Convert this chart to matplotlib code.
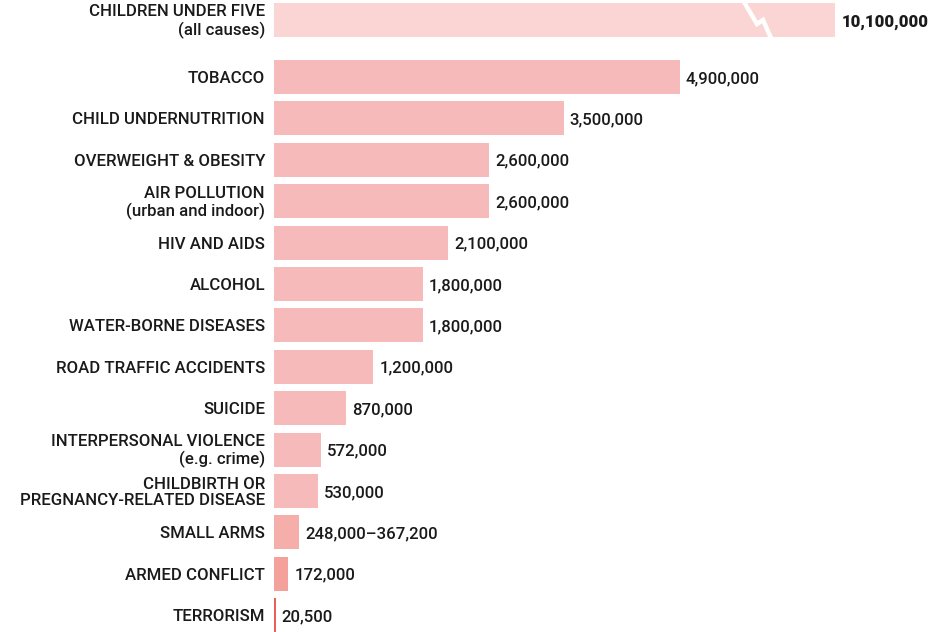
import numpy as np
import matplotlib
matplotlib.use("Agg")
from matplotlib import pyplot as plt

plt.rcParams['font.family'] = ['Roboto', 'DejaVu Sans']

# data
causes = ["CHILDREN UNDER FIVE\n(all causes)", "TOBACCO", "CHILD UNDERNUTRITION",
          "OVERWEIGHT & OBESITY", "AIR POLLUTION\n(urban and indoor)", "HIV AND AIDS",
          "ALCOHOL", "WATER-BORNE DISEASES", "ROAD TRAFFIC ACCIDENTS", "SUICIDE",
          "INTERPERSONAL VIOLENCE\n(e.g. crime)", "CHILDBIRTH OR\nPREGNANCY-RELATED DISEASE",
          "SMALL ARMS", "ARMED CONFLICT", "TERRORISM"]
deaths = [10100000, 4900000, 3500000, 2600000, 2600000, 2100000, 1800000, 1800000,
          1200000, 870000, 572000, 530000, 307600, 172000, 20500]
value_labels = ["10,100,000", "4,900,000", "3,500,000", "2,600,000", "2,600,000",
                "2,100,000", "1,800,000", "1,800,000", "1,200,000", "870,000",
                "572,000", "530,000", "248,000\u2013367,200", "172,000", "20,500"]

# layout
W, H = 932, 632
x0 = 274
px_per_m = 82.8
cap = 6.78  # broken bar shown up to this (millions)
ypos = [20] + [77 + 41.4 * i for i in range(14)]
colors = ["#fbd4d4"] + ["#f7baba"] * 11 + ["#f6aeab", "#f4a19c", "#e9605a"]

fig = plt.figure(figsize=(W / 100, H / 100), dpi=100)
ax = fig.add_axes([x0 / W, 0, (W - x0) / W, 1])
ax.set_xlim(0, (W - x0) / px_per_m)
ax.set_ylim(H, 0)
ax.axis('off')

vals = np.array(deaths) / 1e6
shown = np.minimum(vals, cap)
for i in range(len(causes)):
    h = 34
    if i == len(causes) - 1:
        ax.barh(ypos[i], max(shown[i], 0.024), height=h, color=colors[i], left=0)
    else:
        ax.barh(ypos[i], shown[i], height=h, color=colors[i], left=0)
    bold = 'heavy' if i == 0 else 'medium'
    ax.text(shown[i] + 6 / px_per_m, ypos[i] + 1.5, value_labels[i], ha='left', va='center',
            fontsize=12.1, color='#1a1a1a', fontweight=bold)
    ax.text(-9 / px_per_m, ypos[i] + 1.5, causes[i], ha='right', va='center',
            fontsize=12.1, color='#1a1a1a', fontweight='medium', linespacing=1.15,
            multialignment='right', clip_on=False)

# break mark on the first bar
bx = np.array([744, 757, 763, 771]) - x0
by = [2, 24, 20, 38]
ax.plot(bx / px_per_m, by, color='white', lw=3.2, solid_joinstyle='miter')

fig.savefig("out.png", dpi=100)
